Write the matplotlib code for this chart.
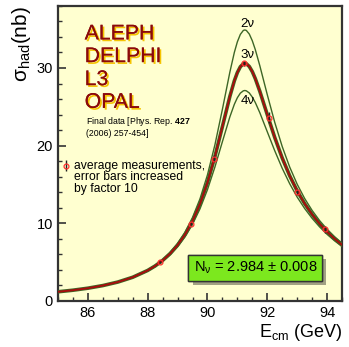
import matplotlib
matplotlib.use("Agg")
import matplotlib.pyplot as plt
import matplotlib.patheffects as pe

plt.rcParams['font.family'] = ['Liberation Sans', 'DejaVu Sans']
plt.rcParams['mathtext.fontset'] = 'custom'
plt.rcParams['mathtext.rm'] = 'Liberation Sans'
plt.rcParams['mathtext.it'] = 'Liberation Sans:italic'
plt.rcParams['mathtext.bf'] = 'Liberation Sans:bold'

# ---- data ----
energy = [85.0, 85.5, 86.0, 86.5, 87.0, 87.5, 88.0, 88.25, 88.5, 88.75, 89.0, 89.25,
          89.5, 89.75, 90.0, 90.25, 90.5, 90.75, 90.9, 91.0, 91.1, 91.2, 91.25, 91.3,
          91.4, 91.5, 91.6, 91.75, 92.0, 92.25, 92.5, 92.75, 93.0, 93.25, 93.5, 93.75,
          94.0, 94.25, 94.5]
sigma_2nu = [1.173, 1.378, 1.640, 1.983, 2.442, 3.075, 3.979, 4.578, 5.316, 6.233, 7.386, 8.851,
             10.73, 13.14, 16.23, 20.11, 24.68, 29.48, 32.02, 33.37, 34.33, 34.84, 34.9, 34.84,
             34.37, 33.51, 32.37, 30.31, 26.57, 23.00, 19.88, 17.24, 15.03, 13.19, 11.65, 10.34,
             9.23, 8.27, 7.43]
sigma_3nu = [1.168, 1.370, 1.629, 1.967, 2.419, 3.038, 3.916, 4.496, 5.205, 6.081, 7.173, 8.545,
             10.28, 12.48, 15.24, 18.60, 22.45, 26.35, 28.36, 29.41, 30.16, 30.55, 30.6, 30.55,
             30.19, 29.53, 28.63, 27.01, 24.00, 21.05, 18.40, 16.12, 14.17, 12.53, 11.13, 9.93,
             8.90, 8.00, 7.22]
sigma_4nu = [1.162, 1.362, 1.618, 1.951, 2.394, 2.999, 3.852, 4.412, 5.093, 5.929, 6.962, 8.248,
             9.855, 11.857, 14.32, 17.25, 20.51, 23.71, 25.33, 26.17, 26.76, 27.06, 27.1, 27.06,
             26.78, 26.25, 25.55, 24.25, 21.79, 19.34, 17.08, 15.09, 13.37, 11.90, 10.63, 9.53,
             8.57, 7.74, 7.00]
meas_energy = [88.42, 89.45, 90.22, 91.23, 92.05, 93.00, 93.92]
meas_sigma = [5.0, 9.95, 18.3, 30.6, 23.6, 14.0, 9.2]
meas_err10 = [0.15, 0.2, 0.45, 0.3, 0.75, 0.35, 0.45]
experiments = ["ALEPH", "DELPHI", "L3", "OPAL"]
curve_labels = ["2ν", "3ν", "4ν"]
curve_label_y = [35.7, 31.7, 25.7]
nnu_text = r"N$_{\mathrm{ν}}$ = 2.984 ± 0.008"

# ---- figure ----
fig = plt.figure(figsize=(3.49, 3.47), dpi=100)
ax = fig.add_axes([0.166, 0.133, 0.814, 0.850])
ax.set_facecolor('#ffffd0')

green = '#3d6626'
red = '#a80c0c'
ax.plot(energy, sigma_2nu, color=green, lw=1.0, zorder=3)
ax.plot(energy, sigma_4nu, color=green, lw=1.0, zorder=3)
ax.plot(energy, sigma_3nu, color=green, lw=2.6, zorder=3)
ax.plot(energy, sigma_3nu, color=red, lw=1.4, zorder=4)

ax.errorbar(meas_energy, meas_sigma, yerr=meas_err10, fmt='o', ms=3.5, mfc='none',
            mec='#ff3030', mew=0.9, ecolor='#222222', elinewidth=1.0, capsize=0, zorder=5)

ax.set_xlim(85, 94.5)
ax.set_ylim(0, 38)
ax.set_xticks([86, 88, 90, 92, 94])
ax.set_yticks([0, 10, 20, 30])
ax.set_xticks([85 + 0.5 * i for i in range(20)], minor=True)
ax.set_yticks([2 * i for i in range(20)], minor=True)
ax.tick_params(which='both', direction='in', colors='#333333', labelcolor='black',
               labelsize=10.5, top=False, right=False)
ax.tick_params(which='major', length=6, width=1.2)
ax.tick_params(which='minor', length=3, width=1.0)
for s in ax.spines.values():
    s.set_color('#333333')
    s.set_linewidth(1.6)

ax.set_ylabel(r"σ$_{\mathrm{had}}$(nb)", fontsize=15, loc='top', labelpad=3)
ax.set_xlabel(r"E$_{\mathrm{cm}}$ (GeV)", fontsize=13, loc='right', labelpad=2)

# experiment names with shadow
ys = [0.905, 0.828, 0.750, 0.673]
for name, y in zip(experiments, ys):
    ax.text(0.094, y, name, transform=ax.transAxes, fontsize=15.3, color='#8b0a0a',
            va='center', ha='left',
            path_effects=[pe.withSimplePatchShadow(offset=(1.3, -1.3), shadow_rgbFace='#f5c400', alpha=1.0),
                          pe.Normal()])

ax.text(0.10, 0.607, r"Final data [Phys. Rep. $\mathbf{427}$", transform=ax.transAxes,
        fontsize=6.3, va='center', ha='left')
ax.text(0.10, 0.569, "(2006) 257-454]", transform=ax.transAxes, fontsize=6.3,
        va='center', ha='left')

# legend entry
ax.errorbar([0.03], [0.458], yerr=[0.018], transform=ax.transAxes, fmt='o', ms=3.5,
            mfc='none', mec='#ff3030', mew=0.9, ecolor='#222222', elinewidth=1.0,
            capsize=0, clip_on=False, zorder=6)
ax.text(0.056, 0.478, "average measurements,\nerror bars increased\nby factor 10",
        transform=ax.transAxes, fontsize=8.7, va='top', ha='left', linespacing=0.95)

# curve labels
for lab, y in zip(curve_labels, curve_label_y):
    ax.text(91.34, y, lab, fontsize=9.5, ha='center', va='center')

# N_nu box with drop shadow
t = ax.text(0.695, 0.112, nnu_text, transform=ax.transAxes, fontsize=10.5, ha='center',
            va='center', color='black', zorder=7,
            bbox=dict(boxstyle='square,pad=0.35', fc='#7ce81e', ec='#333333', lw=1.0))
t.get_bbox_patch().set_path_effects([
    pe.withSimplePatchShadow(offset=(3, -3), shadow_rgbFace='#8a8a70', alpha=0.8),
    pe.Normal()])

fig.savefig('out.png', dpi=100)
